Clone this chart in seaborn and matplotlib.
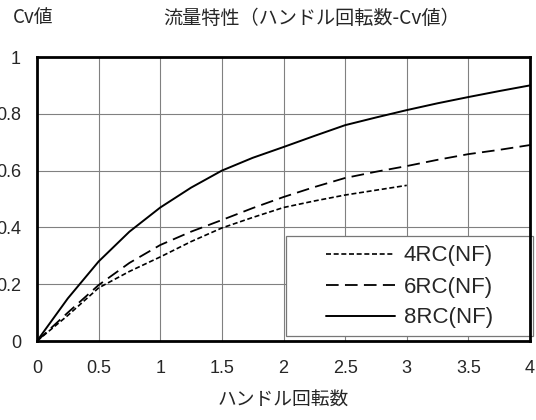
import numpy as np
import pandas as pd
import matplotlib
matplotlib.use("Agg")
import matplotlib.pyplot as plt
from matplotlib.patches import Rectangle
import seaborn as sns

# ===================== DATA ==========================
turns_4rc = [0, 0.25, 0.5, 0.75, 1.0, 1.25, 1.5, 1.75, 2.0, 2.25, 2.5, 2.75, 3.0]
cv_4rc = [0, 0.09, 0.187, 0.245, 0.296, 0.35, 0.398, 0.435, 0.47, 0.493, 0.514, 0.531, 0.548]

turns_6rc = [0, 0.25, 0.5, 0.75, 1.0, 1.25, 1.5, 1.75, 2.0, 2.25, 2.5, 2.75, 3.0, 3.25, 3.5, 3.75, 4.0]
cv_6rc = [0, 0.10, 0.197, 0.275, 0.338, 0.385, 0.426, 0.468, 0.507, 0.542, 0.574, 0.596,
          0.616, 0.638, 0.658, 0.673, 0.690]

turns_8rc = [0, 0.25, 0.5, 0.75, 1.0, 1.25, 1.5, 1.75, 2.0, 2.25, 2.5, 2.75, 3.0, 3.25, 3.5, 3.75, 4.0]
cv_8rc = [0, 0.15, 0.28, 0.385, 0.47, 0.54, 0.60, 0.645, 0.683, 0.722, 0.76, 0.787,
          0.813, 0.837, 0.859, 0.88, 0.90]

labels = ["4RC(NF)", "6RC(NF)", "8RC(NF)"]
x_ticks = [0, 0.5, 1, 1.5, 2, 2.5, 3, 3.5, 4]
x_ticklabels = ["0", "0.5", "1", "1.5", "2", "2.5", "3", "3.5", "4"]
y_ticks = [0, 0.2, 0.4, 0.6, 0.8, 1.0]
y_ticklabels = ["0", "0.2", "0.4", "0.6", "0.8", "1"]

# ===================== STYLE ==========================
sns.set_style("white")
plt.rcParams['font.family'] = ['Liberation Sans', 'Noto Sans CJK JP', 'DejaVu Sans']
jp = ['Noto Sans CJK JP', 'DejaVu Sans']

W, H = 536, 420
fig = plt.figure(figsize=(W / 100, H / 100), dpi=100)
ax = fig.add_axes([37 / W, 1 - 341 / H, (530 - 37) / W, (341 - 57) / H])

series = [
    (turns_4rc, cv_4rc, (0, (3.0, 1.6)), 1.2),
    (turns_6rc, cv_6rc, (0, (7, 3.5)), 1.3),
    (turns_8rc, cv_8rc, '-', 1.4),
]
for (xs, ys, ls, lw), lab in zip(series, labels):
    df = pd.DataFrame({'x': xs, 'y': ys})
    sns.lineplot(data=df, x='x', y='y', ax=ax, color='black', linestyle=ls,
                 linewidth=lw, label=lab, zorder=3)

ax.set_xlim(0, 4)
ax.set_ylim(0, 1)
ax.set_xticks(x_ticks)
ax.set_xticklabels(x_ticklabels, fontsize=13)
ax.set_yticks(y_ticks)
ax.set_yticklabels(y_ticklabels, fontsize=13)
ax.tick_params(axis='both', length=0)
ax.tick_params(axis='y', pad=11.5)
ax.tick_params(axis='x', pad=14)
ax.grid(True, color='#808080', linewidth=0.8)
for sp in ax.spines.values():
    sp.set_color('black')
    sp.set_linewidth(2)
    sp.set_zorder(6)
ax.set_xlabel('')
ax.set_ylabel('')

fig.text(312 / W, 1 - 18 / H, '流量特性（ハンドル回転数-Cv値）', ha='center', va='center',
         fontsize=13.8, family=jp)
fig.text(13 / W, 1 - 18 / H, 'Cv値', ha='left', va='center', fontsize=13.5, family=jp)
fig.text(283 / W, 1 - 400 / H, 'ハンドル回転数', ha='center', va='center',
         fontsize=13.5, family=jp)

# legend box (white, grey edge) drawn over the grid
box = Rectangle((286 / W, 1 - 336 / H), (533 - 286) / W, (336 - 236) / H,
                transform=fig.transFigure, facecolor='white', edgecolor='#777777',
                linewidth=0.9, clip_on=False, zorder=5)
ax.add_patch(box)

leg = ax.legend(loc='center', bbox_to_anchor=(409.5 / W, 1 - 287 / H),
                bbox_transform=fig.transFigure, fontsize=16, frameon=False,
                handlelength=3.1, handletextpad=0.4, borderpad=0, labelspacing=0.45)
leg.set_zorder(7)

fig.savefig('out.png', dpi=100)
